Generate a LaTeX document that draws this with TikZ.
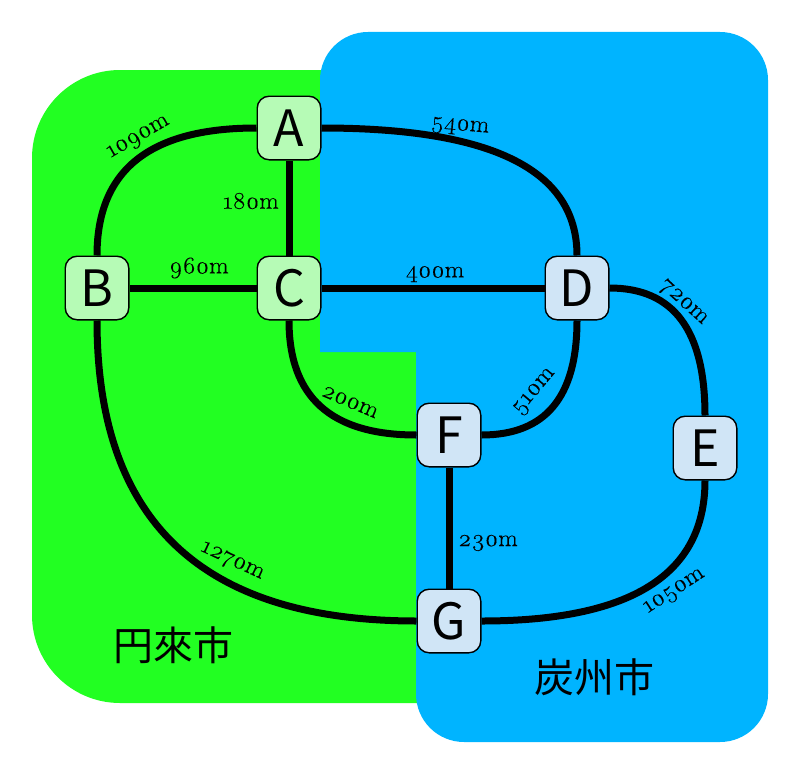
\documentclass[tikz,border=0pt]{standalone}
\usepackage{fontspec}
\usetikzlibrary{calc,backgrounds}
\setmainfont{Latin Modern Roman}[Numbers=OldStyle,FakeStretch=1.06,FakeBold=0.25]
\newfontfamily\cjkfont{Noto Sans CJK JP}
\definecolor{regG}{HTML}{22FF22}
\definecolor{regB}{HTML}{00B4FF}
\definecolor{nodeG}{HTML}{B6FBB6}
\definecolor{nodeB}{HTML}{D0E5F6}
\tikzset{
  stn/.style={draw=black,line width=1.4pt,rounded corners=12pt,minimum size=63.6pt,inner sep=0pt,anchor=center,font=\cjkfont\fontsize{50}{50}\selectfont},
  stnG/.style={stn,fill=nodeG},
  stnB/.style={stn,fill=nodeB},
  track/.style={draw=black,line width=7pt},
  dist/.style={inner sep=0pt,font=\fontsize{24}{26}\selectfont},
  city/.style={inner sep=0pt,font=\cjkfont\fontsize{40}{40}\selectfont}
}
% squarish quarter curve from #1 to #2 turning round corner #3
\newcommand{\bend}[3]{\draw[track] (#1) .. controls ($(#1)!0.67!(#3)$) and ($(#2)!0.67!(#3)$) .. (#2);}
\begin{document}
\begin{tikzpicture}[x=1pt,y=-1pt]
\useasboundingbox (0,0) rectangle (800,768);
\node[stnG] (A) at (289,128) {A};
\node[stnG] (B) at (97,288) {B};
\node[stnG] (C) at (289,288) {C};
\node[stnB] (D) at (577,288) {D};
\node[stnB] (E) at (705,448) {E};
\node[stnB] (F) at (449,435) {F};
\node[stnB] (G) at (449,621) {G};
\begin{pgfonlayer}{background}
\fill[regG,rounded corners=88pt] (340,70) -- (32,70) -- (32,703) -- (340,703) [sharp corners] -- (430,703) -- (430,70) -- cycle;
\fill[regG] (330,69) rectangle (416,353);
\fill[regB,rounded corners=48pt] (416,550) -- (416,742) -- (768,742) -- (768,32) -- (320,32) -- (320,200) [sharp corners] -- (320,352) -- (416,352) -- cycle;
\bend{A.west}{B.north}{A.west -| B.north}
\bend{A.east}{D.north}{A.east -| D.north}
\draw[track] (A) -- (C);
\draw[track] (B) -- (C);
\draw[track] (C) -- (D);
\draw[track] (F) -- (G);
\bend{B.south}{G.west}{B.south |- G.west}
\bend{C.south}{F.west}{C.south |- F.west}
\bend{D.south}{F.east}{D.south |- F.east}
\bend{D.east}{E.north}{D.east -| E.north}
\bend{E.south}{G.east}{E.south |- G.east}
\end{pgfonlayer}
\node[dist,rotate=30] (lab) at (139,138) {1090m};
\node[dist,rotate=-5] (lad) at (460,127) {540m};
\node[dist] (lac) at (251,201) {180m};
\node[dist] (lbc) at (199,268) {960m};
\node[dist] (lcd) at (435,274) {400m};
\node[dist,rotate=-42] (lde) at (683,303) {720m};
\node[dist,rotate=50] (ldf) at (535,392) {510m};
\node[dist,rotate=-23] (lcf) at (350,402) {200m};
\node[dist] (lfg) at (488,543) {230m};
\node[dist,rotate=-25] (lbg) at (232,562) {1270m};
\node[dist,rotate=33] (leg) at (675,592) {1050m};
\node[city] (cityA) at (173,645) {円來市};
\node[city] (cityB) at (594,677) {炭州市};
\end{tikzpicture}
\end{document}
